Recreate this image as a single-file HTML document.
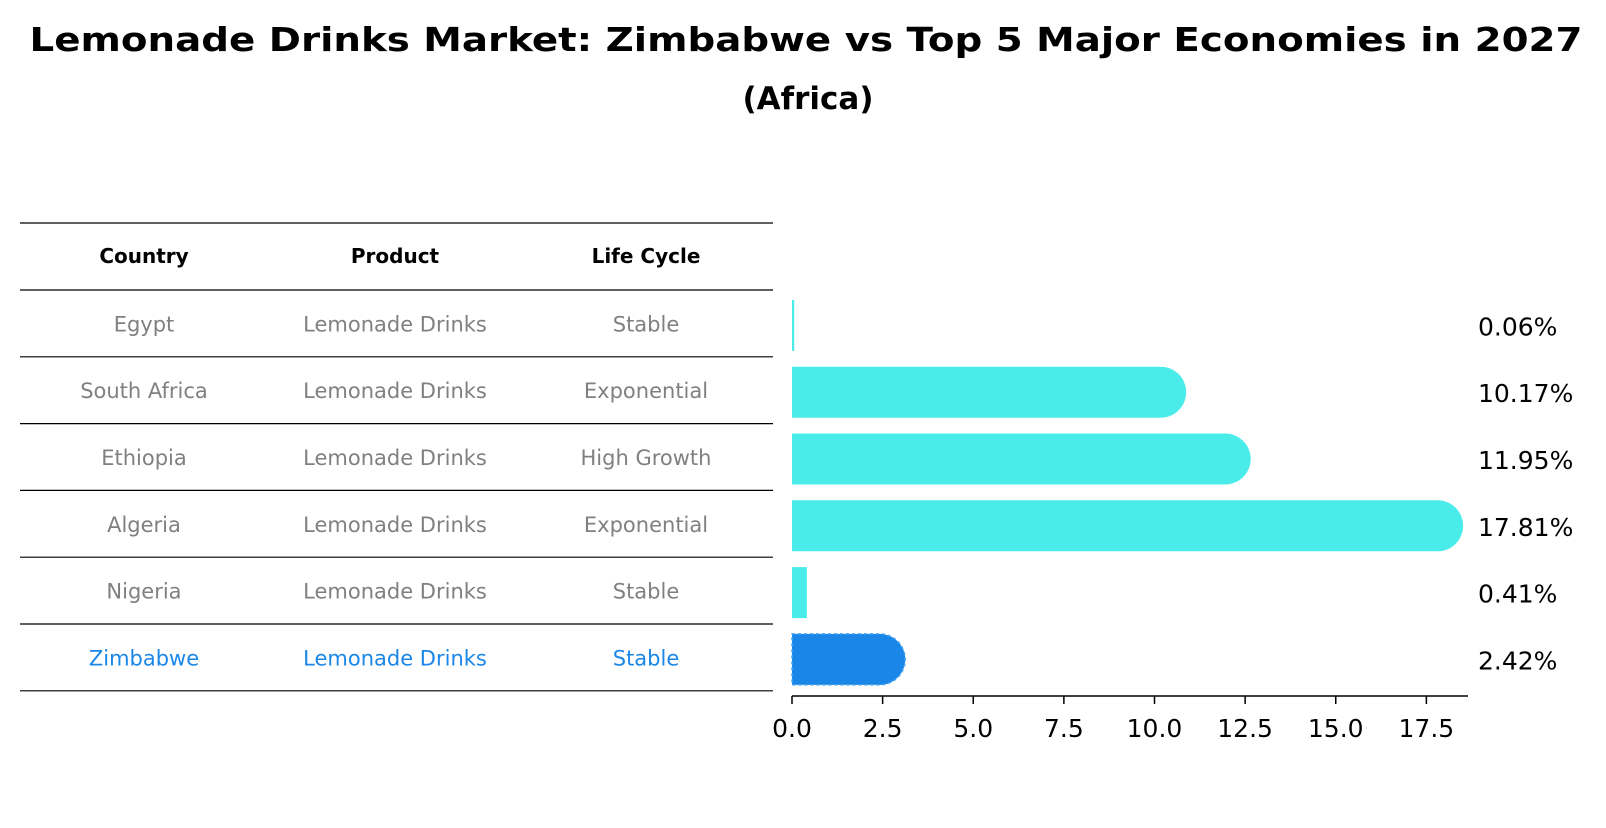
<!DOCTYPE html>
<html><head><meta charset="utf-8"><style>
body{margin:0;background:#fff;}
svg text{font-family:"DejaVu Sans","Liberation Sans",sans-serif;}
</style></head><body>
<svg width="1606" height="823" xmlns="http://www.w3.org/2000/svg" id="chart">
<text x="806" y="51" text-anchor="middle" font-size="33" font-weight="bold" textLength="1553" lengthAdjust="spacingAndGlyphs">Lemonade Drinks Market: Zimbabwe vs Top 5 Major Economies in 2027</text>
<text x="808" y="109" text-anchor="middle" font-size="31" font-weight="bold">(Africa)</text>
<g id="table"></g>
<g id="bars"></g>
</svg>
<script>
const countries=["Egypt","South Africa","Ethiopia","Algeria","Nigeria","Zimbabwe"];
const products=["Lemonade Drinks","Lemonade Drinks","Lemonade Drinks","Lemonade Drinks","Lemonade Drinks","Lemonade Drinks"];
const lifeCycles=["Stable","Exponential","High Growth","Exponential","Stable","Stable"];
const values=[0.06,10.17,11.95,17.81,0.41,2.42];
const valueLabels=["0.06%","10.17%","11.95%","17.81%","0.41%","2.42%"];
const ticks=[0,2.5,5,7.5,10,12.5,15,17.5];
const tickLabels=["0.0","2.5","5.0","7.5","10.0","12.5","15.0","17.5"];
const NS="http://www.w3.org/2000/svg";
function mk(tag,attrs,parent){const e=document.createElementNS(NS,tag);for(const k in attrs)e.setAttribute(k,attrs[k]);parent.appendChild(e);return e;}
const x0=792,pxPerUnit=36.25;
const xs=v=>x0+v*pxPerUnit;
const rowTop=290,rowH=66.8;
const yc=i=>rowTop+rowH*i+rowH/2+2;
const table=document.getElementById('table');
const colX=[144,395,646];
const hdr=["Country","Product","Life Cycle"];
hdr.forEach((h,j)=>{const t=mk('text',{x:colX[j],y:263,'text-anchor':'middle','font-size':20,'font-weight':'bold'},table);t.textContent=h;

});
for(let i=0;i<=countries.length+1;i++){
 const y=i===0?223:rowTop+rowH*(i-1);
 const l=mk('line',{x1:20,x2:773,y1:y,y2:y,stroke:'#000','stroke-width':1.2},table);
 
 
}
countries.forEach((c,i)=>{
 const col=c==="Zimbabwe"?"#1a87e8":"#808080";
 [c,products[i],lifeCycles[i]].forEach((s,j)=>{
  const t=mk('text',{x:colX[j],y:yc(i)+6,'text-anchor':'middle','font-size':21,fill:col},table);t.textContent=s;
  
  
 });
});
const bars=document.getElementById('bars');
const bh=51;
values.forEach((v,i)=>{
 const hl=countries[i]==="Zimbabwe";
 const col=hl?"#1a87e8":"#4aece9";
 const w=Math.max(xs(v)-x0,2);
 let el;
 if(v>1){
  const r=bh/2,xe=xs(v),top=yc(i)-r;
  el=mk('path',{d:`M${x0},${top} H${xe} A${r},${r} 0 0 1 ${xe},${top+bh} H${x0} Z`,fill:col},bars);
  if(hl){el.setAttribute('stroke','#4aa6f0');el.setAttribute('stroke-dasharray','3,3');el.setAttribute('stroke-width','1.5');}
 }else{
  el=mk('rect',{x:x0,y:yc(i)-bh/2,width:w,height:bh,fill:col},bars);
 }
 
 
 const t=mk('text',{x:1478,y:yc(i)+10,'font-size':25},bars);t.textContent=valueLabels[i];
 
 
});
const ax=mk('line',{x1:x0,x2:1468,y1:696,y2:696,stroke:'#000','stroke-width':1.5},bars);


ticks.forEach((t,k)=>{
 const l=mk('line',{x1:xs(t),x2:xs(t),y1:696,y2:704,stroke:'#000','stroke-width':1.5},bars);
 
 
 const tx=mk('text',{x:xs(t),y:737,'text-anchor':'middle','font-size':25},bars);tx.textContent=tickLabels[k];
 
 
});
</script>
</body></html>
